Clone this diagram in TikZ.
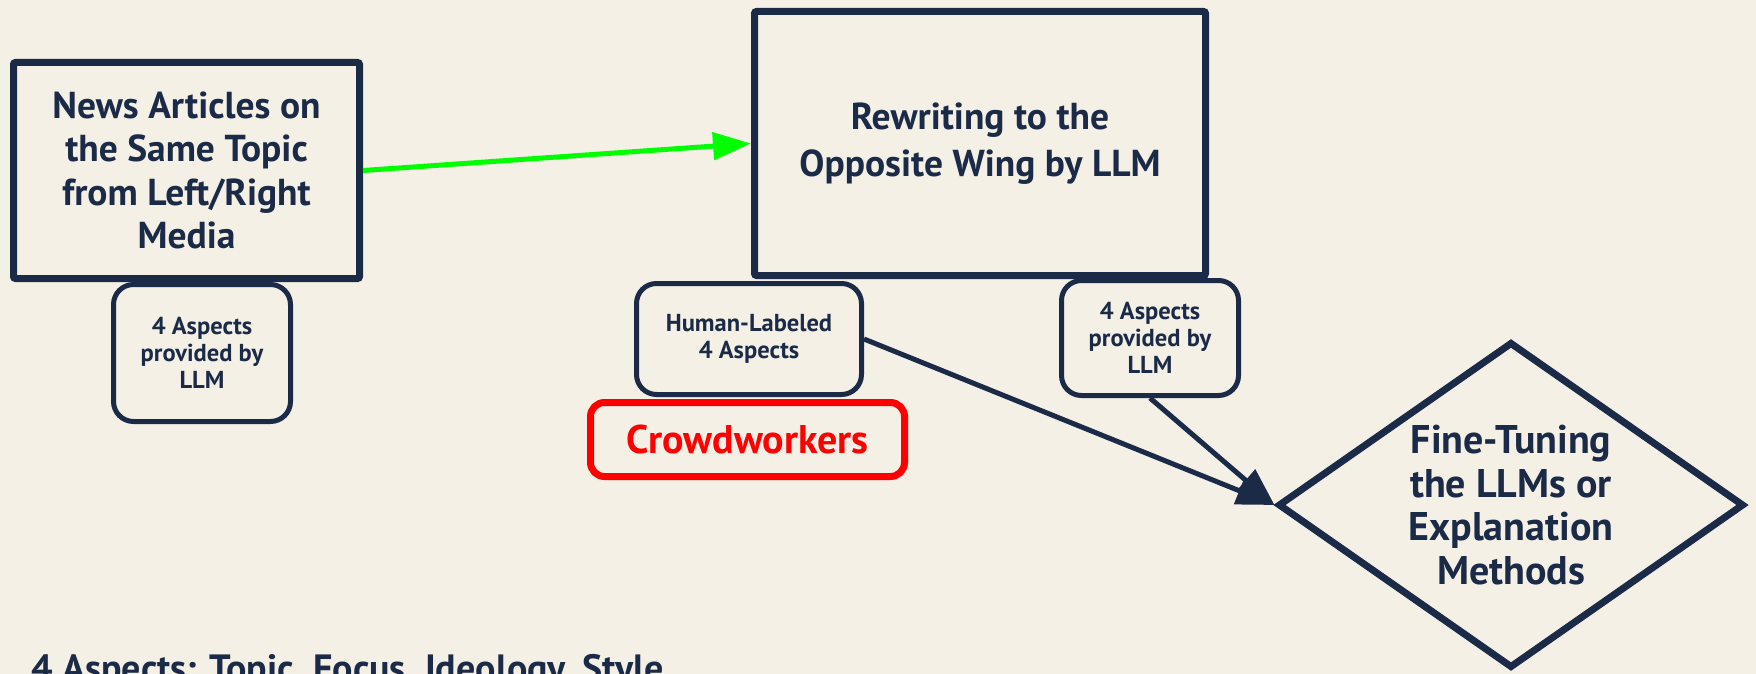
\documentclass[tikz,border=0pt]{standalone}
\usepackage{fontspec}
\setmainfont{PT Sans}
\usetikzlibrary{arrows.meta,shapes.geometric}
\definecolor{bg}{HTML}{F4F0E6}
\definecolor{navy}{HTML}{1B2A47}
\definecolor{myred}{HTML}{FF0000}
\definecolor{mygreen}{HTML}{00FF00}
\tikzset{
  bigfont/.style={font=\fontsize{37.5}{43.5}\selectfont\bfseries},
  widefont/.style={font=\fontsize{37.5}{47}\selectfont\bfseries},
  hugefont/.style={font=\fontsize{40}{43.5}\selectfont\bfseries},
  smallfont/.style={font=\fontsize{24.5}{27}\selectfont\bfseries},
  bigbox/.style={rectangle, draw=navy, line width=7pt, rounded corners=2pt, inner sep=0pt, align=center, text=navy, bigfont},
  smallbox/.style={rectangle, draw=navy, line width=5pt, rounded corners=20pt, inner sep=0pt, align=center, text=navy, smallfont},
  redbox/.style={rectangle, draw=myred, line width=7pt, rounded corners=14pt, inner sep=0pt, align=center, text=myred, hugefont},
  diam/.style={diamond, draw=navy, line width=7pt, inner sep=0pt},
  difont/.style={align=center, text=navy, hugefont, inner sep=0pt},
  darrow/.style={draw=navy, line width=5pt, -{Triangle[length=38pt,width=28pt]}},
  garrow/.style={draw=mygreen, line width=5pt, -{Triangle[length=38pt,width=27pt]}},
  plain/.style={text=navy, font=\fontsize{38}{44}\selectfont\bfseries, inner sep=0pt}
}
\begin{document}
\begin{tikzpicture}[x=1pt,y=-1pt]
  \useasboundingbox (0,0) rectangle (1756,674);
  \fill[bg] (0,0) rectangle (1756,674);

  \node[bigbox, minimum width=346pt, minimum height=216pt] (news) at (186.5,170.5)
    {News Articles on\\the Same Topic\\from Left/Right\\Media};
  \node[smallbox, minimum width=177pt, minimum height=137pt] (lsa) at (202,353)
    {4 Aspects\\provided by\\LLM};

  \node[bigbox, widefont, minimum width=451pt, minimum height=264pt] (rew) at (980,143.5)
    {Rewriting to the\\Opposite Wing by LLM};
  \node[smallbox, minimum width=225pt, minimum height=111pt] (hl) at (749,339)
    {Human-Labeled\\4 Aspects};
  \node[smallbox, minimum width=177pt, minimum height=115pt] (ra) at (1150,338)
    {4 Aspects\\provided by\\LLM};
  \node[redbox, minimum width=314pt, minimum height=74pt] (crowd) at (747.5,439.5)
    {Crowdworkers};

  \node[diam, minimum width=466pt, minimum height=326pt] (ft) at (1511,505) {};
  \node[difont] (ftlabel) at (ft.center)
    {Fine-Tuning\\the LLMs or\\Explanation\\Methods};

  \node[plain, anchor=base west] (legend) at (31,681)
    {4 Aspects: Topic, Focus, Ideology, Style};

  \draw[garrow] (news.east) -- (rew.west);
  \draw[darrow] (hl.east) -- (ft.west);
  \draw[darrow] (ra.south) -- (ft.west);
\end{tikzpicture}
\end{document}
